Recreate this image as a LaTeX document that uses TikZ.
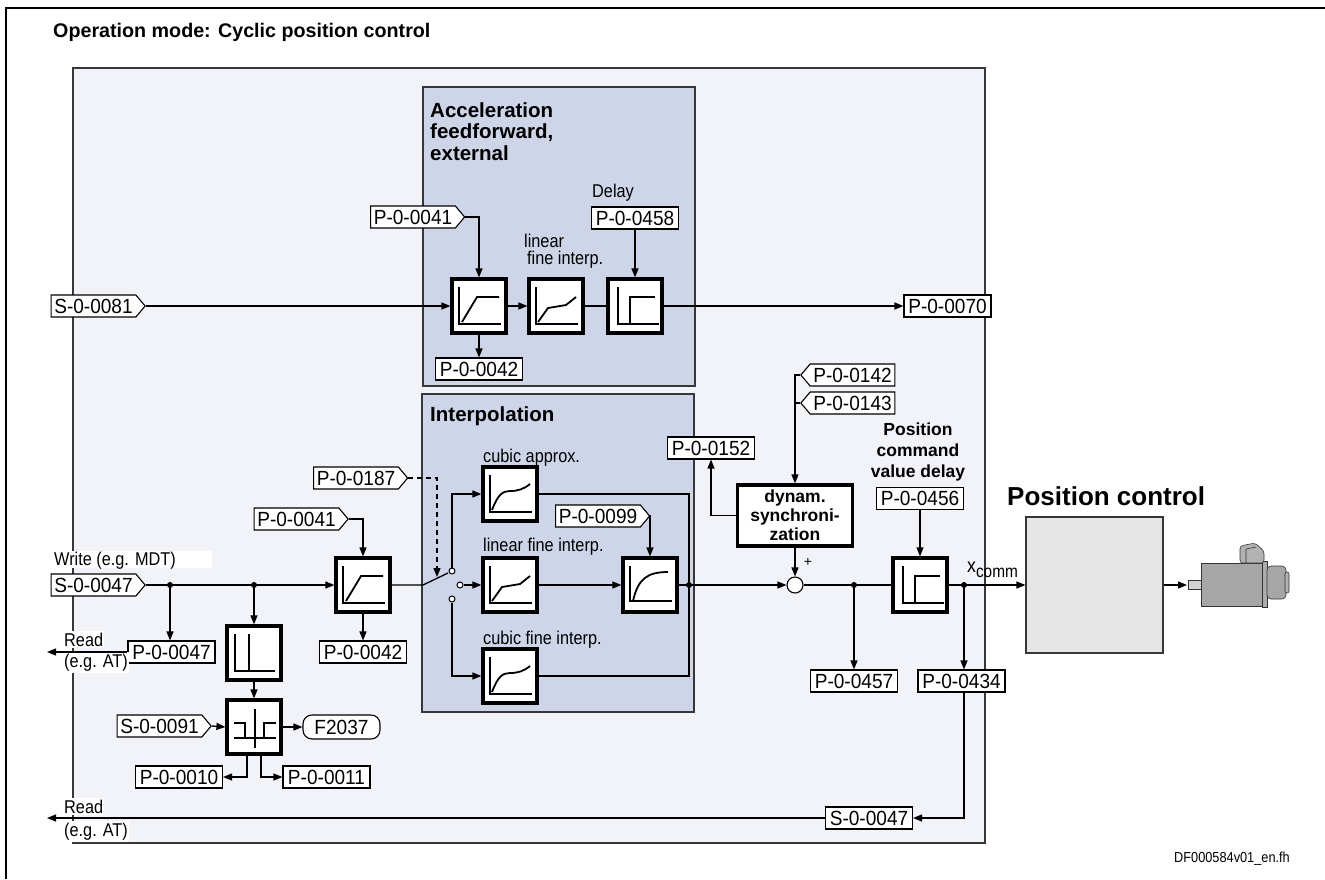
\documentclass[tikz,border=0pt]{standalone}
\usepackage{fontspec}
\setmainfont{Liberation Sans}
\newfontfamily\parfont[FakeStretch=0.93]{Liberation Sans}
\newfontfamily\labfont[FakeStretch=0.88]{Liberation Sans}
\usetikzlibrary{arrows.meta,shapes.symbols}

\definecolor{panelbg}{RGB}{241,243,249}
\definecolor{subbg}{RGB}{206,213,232}
\definecolor{edge}{RGB}{55,55,55}
\definecolor{pcgray}{RGB}{230,230,230}

\tikzset{
  conn/.style={line width=1.3pt},
  arr/.style={conn,-{Triangle[length=9pt,width=7pt]}},
  pbox/.style={draw,line width=1.1pt,fill=white,minimum width=87pt,minimum height=22pt,
    inner sep=0pt,font=\parfont\fontsize{20.5}{22}\selectfont},
  tagr/.style={pbox,signal,signal to=east,signal pointer angle=100,minimum width=94pt},
  tagl/.style={pbox,signal,signal to=west,signal pointer angle=100,minimum width=94pt},
  fblk/.style={draw,line width=3.2pt,fill=white,minimum size=54pt,inner sep=0pt},
  gl/.style={line width=1.1pt},
  gc/.style={line width=1.8pt},
  lab/.style={inner sep=0pt,font=\labfont\fontsize{18.5}{20}\selectfont},
  hdr/.style={inner sep=0pt,font=\bfseries\fontsize{20.5}{21.5}\selectfont,align=left},
  jdot/.style={circle,fill=black,inner sep=0pt,minimum size=6pt},
  contact/.style={circle,draw,fill=white,line width=1pt,inner sep=0pt,minimum size=6pt},
  wbg/.style={lab,fill=white,inner xsep=1pt,inner ysep=2pt},
  % characteristic curves drawn inside the function blocks
  pics/gramp/.style={code={
    \draw[gl] (-20,-19) -- (-20,18) -- (22,18);
    \draw[gc] (-17,16) -- (-2,-9) -- (20,-9);}},
  pics/glin/.style={code={
    \draw[gl] (-20,-19) -- (-20,18) -- (22,18);
    \draw[gc] (-18,16) -- (-8,2) -- (10,-1) -- (20,-9);}},
  pics/gdelay/.style={code={
    \draw[gl] (-17,-19) -- (-17,18) -- (24,18);
    \draw[gc] (-5,18) -- (-5,-9) -- (20,-9);}},
  pics/gcubic/.style={code={
    \draw[gl] (-20,-19) -- (-20,18) -- (22,18);
    \draw[gc] (-18,16) .. controls (-12,0) and (-7,-3) .. (0,-3)
              .. controls (8,-3) and (14,-5) .. (20,-10);}},
  pics/gexp/.style={code={
    \draw[gl] (-20,-19) -- (-20,16) -- (22,16);
    \draw[gc] (-17,16) .. controls (-12,-6) and (-3,-13) .. (18,-13);}},
  pics/gspike/.style={code={
    \draw[gl] (-19,-19) -- (-19,18) -- (21,18);
    \draw[line width=2.2pt] (-5,-19) -- (-5,18);}},
  pics/gwindow/.style={code={
    \draw[gl] (1,-18) -- (1,21);
    \draw[gc] (-20,11) -- (22,11);
    \draw[gc] (-20,-4) -- (-9,-4) -- (-9,11);
    \draw[gc] (10,11) -- (10,-4) -- (22,-4);}},
}

\begin{document}
\begin{tikzpicture}[x=1pt,y=-1pt]
\useasboundingbox (0,0) rectangle (1325,879);
\fill[white] (0,0) rectangle (1325,879);

% outer frame and title
\draw[line width=2.5pt] (6,879) -- (6,8) -- (1325,8);
\node[anchor=base west,inner sep=0pt,font=\bfseries\fontsize{19.7}{24}\selectfont] (title) at (53,37)
  {Operation mode: Cyclic position control};

% panels
\draw[edge,line width=1.4pt,fill=panelbg] (73,68) rectangle (985,843);
\draw[edge,line width=1.4pt,fill=subbg] (423,87) rectangle (695,386);
\draw[edge,line width=1.4pt,fill=subbg] (422,394) rectangle (694,712);
\node[hdr,anchor=north west] (hacc) at (430,102) {Acceleration\\feedforward,\\external};
\node[hdr,anchor=north west] (hint) at (430,406) {Interpolation};

% ---------- acceleration feedforward ----------
\node[tagr] (p41u) at (413,217) {P-0-0041};
\node[lab,anchor=base west] (ldelay) at (592,197) {Delay};
\node[pbox] (p458) at (635,218) {P-0-0458};
\node[lab,anchor=base west] (llin1) at (524,247) {linear};
\node[lab,anchor=base west] (llin2) at (527,264) {fine interp.};
\node[fblk] (a1) at (479,306) {}; \pic at (a1) {gramp};
\node[fblk] (a2) at (556,306) {}; \pic at (a2) {glin};
\node[fblk] (a3) at (635,306) {}; \pic at (a3) {gdelay};
\node[pbox] (p42u) at (479,369) {P-0-0042};
\node[tagr] (s81) at (93.5,306) {S-0-0081};
\node[pbox] (p70) at (947.5,306) {P-0-0070};

\draw[arr] (s81.east) -- (a1.west);
\draw[arr] (p41u.east) -| (a1.north);
\draw[arr] (a1.south) -- (p42u.north);
\draw[arr] (a1.east) -- (a2.west);
\draw[conn] (a2.east) -- (a3.west);
\draw[arr] (p458.south) -- (a3.north);
\draw[arr] (a3.east) -- (p70.west);

% ---------- command value input ----------
\fill[white] (53,551) rectangle (212,568);
\node[lab,anchor=base west] (lwrite) at (54,565) {Write (e.g. MDT)};
\node[tagr] (s47) at (93.5,585) {S-0-0047};
\node[jdot] (j1) at (170,585) {};
\node[jdot] (j2) at (254,585) {};
\node[fblk] (f1) at (363,585) {}; \pic at (f1) {gramp};
\node[tagr] (p41l) at (296.5,519) {P-0-0041};
\node[pbox] (p42l) at (363,652) {P-0-0042};
\node[pbox] (p47) at (171.5,652) {P-0-0047};
\node[wbg,anchor=base west] (lread1) at (63,646) {Read};
\node[wbg,anchor=base west] (lat1) at (63,667) {(e.g. AT)};
\coordinate (rd1) at (47,652);
\node[fblk] (th) at (254,653) {}; \pic at (th) {gspike};
\node[fblk] (cp) at (254,727) {}; \pic at (cp) {gwindow};
\node[tagr] (s91) at (159.5,726) {S-0-0091};
\node[draw,rounded corners=9pt,line width=1.1pt,fill=white,minimum width=77pt,minimum height=24pt,
  inner sep=0pt,font=\parfont\fontsize{20.5}{22}\selectfont] (f2037) at (341.5,727) {F2037};
\node[pbox] (p10) at (179,777) {P-0-0010};
\node[pbox] (p11) at (326.5,777) {P-0-0011};

\draw[arr] (s47.east) -- (f1.west);
\draw[arr] (j1.center) -- (j1 |- p47.north);
\draw[arr] (j2.center) -- (th.north);
\draw[arr] (p41l.east) -| (f1.north);
\draw[arr] (f1.south) -- (p42l.north);
\draw[arr] (p47.west) -- (rd1);
\draw[arr] (th.south) -- (cp.north);
\draw[arr] (s91.east) -- (cp.west);
\draw[arr] (cp.east) -- (f2037.west);
\draw[arr] ([xshift=-7pt]cp.south) |- (p10.east);
\draw[arr] ([xshift=7pt]cp.south) |- (p11.west);

% ---------- interpolation ----------
\node[tagr] (p187) at (356,478) {P-0-0187};
\coordinate (piv) at (423,585);
\node[contact] (cu) at (452,571) {};
\node[contact] (cm) at (460,585) {};
\node[contact] (cl) at (452,599) {};
\coordinate (swt) at (437,577);
\node[lab,anchor=base west] (lca) at (483,462) {cubic approx.};
\node[fblk] (ca) at (510,494) {}; \pic at (ca) {gcubic};
\node[lab,anchor=base west] (llf) at (483,551) {linear fine interp.};
\node[fblk] (lf) at (510,585) {}; \pic at (lf) {glin};
\node[lab,anchor=base west] (lcf) at (483,644) {cubic fine interp.};
\node[fblk] (cf) at (510,676) {}; \pic at (cf) {gcubic};
\node[tagr] (p99) at (598,516) {P-0-0099};
\node[fblk] (sm) at (650,585) {}; \pic at (sm) {gexp};
\node[jdot] (j3) at (689,585) {};

\draw[conn] (f1.east) -- (piv) -- (448,573);
\draw[arr] (cu.north) |- (ca.west);
\draw[arr] (cm.east) -- (lf.west);
\draw[arr] (cl.south) |- (cf.west);
\draw[conn] (ca.east) -| (j3.center);
\draw[conn] (cf.east) -| (j3.center);
\draw[arr] (lf.east) -- (sm.west);
\draw[arr] (p99.east) -| (sm.north);
\draw[conn] (sm.east) -- (j3.center);
\draw[arr,dash pattern=on 5pt off 4pt] (p187.east) -| (swt);

% ---------- synchronization and delay ----------
\node[tagl] (p142) at (852.5,375) {P-0-0142};
\node[tagl] (p143) at (852.5,403) {P-0-0143};
\node[pbox] (p152) at (711,448) {P-0-0152};
\node[draw,line width=3.2pt,fill=white,minimum width=115pt,minimum height=61pt,inner sep=0pt,
  align=center,font=\bfseries\fontsize{17.5}{19}\selectfont] (dyn) at (795,515.5)
  {dynam.\\synchroni-\\zation};
\node[circle,draw,fill=white,line width=1.1pt,minimum size=16pt,inner sep=0pt] (sum) at (795,585) {};
\node[inner sep=0pt,font=\fontsize{14}{14}\selectfont] (plus) at (808,562) {+};
\node[jdot] (j4) at (854,585) {};
\node[pbox] (p457) at (854,681) {P-0-0457};
\node[anchor=north,inner sep=0pt,align=center,font=\bfseries\fontsize{17.5}{21}\selectfont] (lpcd)
  at (918,423) {Position\\command\\value delay};
\node[pbox] (p456) at (920,498.5) {P-0-0456};
\node[fblk] (d2) at (920,585) {}; \pic at (d2) {gdelay};
\node[jdot] (j5) at (964,585) {};
\node[pbox] (p434) at (961.5,681) {P-0-0434};
\node[pbox] (s47b) at (869,818) {S-0-0047};
\coordinate (rd2) at (47,818);
\node[wbg,anchor=base west] (lread2) at (63,813) {Read};
\node[wbg,anchor=base west] (lat2) at (63,836) {(e.g. AT)};

\draw[arr] (p142.west) -| (dyn.north);
\draw[conn] (p143.west) -- (p143.west -| dyn.north);
\draw[arr] (dyn.west) -| (p152.south);
\draw[arr] (dyn.south) -- (sum.north);
\draw[arr] (j3.center) -- (sum.west);
\draw[conn] (sum.east) -- (d2.west);
\draw[arr] (j4.center) -- (j4 |- p457.north);
\draw[arr] (p456.south) -- (d2.north);
\draw[conn] (d2.east) -- (j5.center);
\draw[arr] (j5.center) -- (j5 |- p434.north);
\draw[arr] (j5 |- p434.south) |- (s47b.east);
\draw[arr] (s47b.west) -- (rd2);

% ---------- position control and motor ----------
\node[anchor=base west,inner sep=0pt,font=\labfont\fontsize{20}{20}\selectfont] (xc) at (967,572)
  {x\raisebox{-5pt}{\fontsize{17.5}{18}\selectfont comm}};
\node[anchor=base west,inner sep=0pt,font=\bfseries\fontsize{26}{30}\selectfont] (lpc) at (1007,505)
  {Position control};
\node[draw=edge,fill=pcgray,line width=1.1pt,minimum width=137pt,minimum height=136pt] (pc) at (1094.5,585) {};
\coordinate (shaft) at (1187,585);
\draw[arr] (j5.center) -- (pc.west);
\draw[arr] (pc.east) -- (shaft);

\begin{scope}[draw=gray!40!black,line width=0.6pt]
  \draw[fill=gray!35] (1188,580) rectangle (1202,589);
  \draw[fill=gray!70] (1201,563) rectangle (1262,606);
  \draw[fill=gray!65] (1262,561) rectangle (1267,607);
  \draw[fill=gray!70,rounded corners=4pt] (1267,566) rectangle (1286,599);
  \draw[fill=gray!60,rounded corners=2pt] (1285,572) rectangle (1289,593);
  \draw[fill=gray!60,rounded corners=3pt] (1240,563) -- (1240,546) -- (1255,543) -- (1264,551) -- (1264,563) -- cycle;
  \draw (1246,563) -- (1246,549) -- (1256,547);
\end{scope}

\node[anchor=base east,inner sep=0pt,font=\labfont\fontsize{14.5}{16}\selectfont] (dfid) at (1290,862)
  {DF000584v01\_en.fh};
\end{tikzpicture}
\end{document}
